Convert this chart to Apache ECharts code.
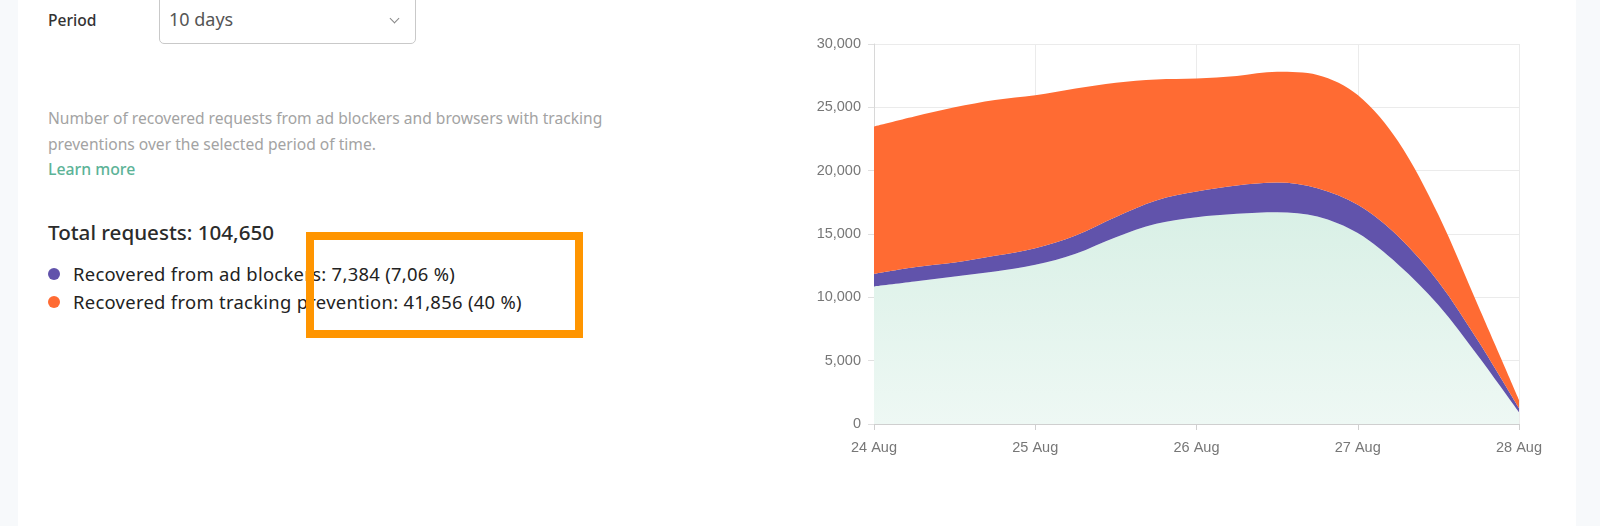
<!DOCTYPE html>
<html>
<head>
<meta charset="utf-8">
<title>Recovered requests</title>
<script src="https://cdn.jsdelivr.net/npm/echarts@6/dist/echarts.min.js"></script>
<style>
    html, body { margin: 0; padding: 0; background: #f7f9fb; }
    #page { position: relative; width: 1600px; height: 526px; overflow: hidden; font-family: "Noto Sans", sans-serif; }
    #panel { position: absolute; left: 18px; top: 0; width: 1558px; height: 526px; background: #fff; }
    #chart { position: absolute; left: 0; top: 0; width: 1600px; height: 526px; }
    .txt { position: absolute; white-space: nowrap; }
    #select { position: absolute; left: 159px; top: -10px; width: 257px; height: 54px; border: 1px solid #c9c9c9; border-radius: 5px; box-sizing: border-box; }
    #arrow { position: absolute; left: 391px; top: 15px; width: 6px; height: 6px; border-right: 1.4px solid #888; border-bottom: 1.4px solid #888; transform: rotate(45deg); }
    .dot { position: absolute; width: 12px; height: 12px; border-radius: 50%; }
    #frame { position: absolute; left: 306px; top: 232px; width: 277px; height: 106px; box-sizing: border-box; border: 8px solid #ff9500; }
</style>
</head>
<body>
<div id="page">
    <div id="panel"></div>
    <div class="txt" style="left:48px;top:9px;font-size:15.6px;color:#333;font-weight:500;">Period</div>
    <div id="select"></div>
    <div class="txt" style="left:169px;top:7px;font-size:18px;color:#555;">10 days</div>
    <div id="arrow"></div>
    <div class="txt" style="left:48px;top:107px;font-size:15.6px;color:#a3a3a3;">Number of recovered requests from ad blockers and browsers with tracking</div>
    <div class="txt" style="left:48px;top:133px;font-size:15.6px;color:#a3a3a3;">preventions over the selected period of time.</div>
    <div class="txt" style="left:48px;top:158px;font-size:15.8px;color:#5cb397;font-weight:500;">Learn more</div>
    <div class="txt" style="left:48px;top:218px;font-size:20.6px;color:#2b2b2b;font-weight:500;">Total requests: 104,650</div>
    <div class="dot" style="left:48px;top:268px;background:#6153ab;"></div>
    <div class="txt" style="left:73px;top:261px;font-size:18.4px;letter-spacing:0.3px;color:#222;">Recovered from ad blockers: 7,384 (7,06 %)</div>
    <div class="dot" style="left:48px;top:296px;background:#ff6b33;"></div>
    <div class="txt" style="left:73px;top:289px;font-size:18.4px;letter-spacing:0.3px;color:#222;">Recovered from tracking prevention: 41,856 (40 %)</div>
    <div id="frame"></div>
    <div id="chart"></div>
</div>
<script>
// quarter day steps, only the full days get a label
var dates = ['24 Aug','','','','25 Aug','','','','26 Aug','','','','27 Aug','','','','28 Aug'];

var otherRequests = [10860,11250,11650,12040,12570,13450,14750,15800,16330,16600,16720,16380,15070,12600,9400,5300,920];
var adBlockers = [1000,1130,1100,1240,1310,1440,1600,1850,2020,2230,2340,2240,2230,2230,1840,1190,340];
var trackingPrevention = [11620,11890,12250,12300,12070,11590,10600,9550,8920,8650,8740,8940,8680,7500,5280,2740,660];

var chart = echarts.init(document.getElementById('chart'));

function areaSeries(name, data, color) {
    return {
        name: name,
        type: 'line',
        stack: 'total',
        smooth: 0.33,
        symbol: 'none',
        lineStyle: { width: 0 },
        areaStyle: { color: color, opacity: 1 },
        data: data
    };
}

var option = {
    animation: false,
    backgroundColor: 'transparent',
    grid: { left: 874, right: 81, top: 44, bottom: 102 },
    xAxis: {
        type: 'category',
        boundaryGap: false,
        data: dates,
        axisLine: { lineStyle: { color: '#cfcfcf' } },
        axisTick: { interval: 3, length: 6, lineStyle: { color: '#cfcfcf' } },
        axisLabel: { interval: 3, color: '#777', fontSize: 14.5, fontFamily: 'Liberation Sans', margin: 16, showMaxLabel: true },
        splitLine: { show: true, interval: 3, lineStyle: { color: '#ebebeb' } }
    },
    yAxis: {
        type: 'value',
        min: 0,
        max: 30000,
        interval: 5000,
        axisLine: { show: true, lineStyle: { color: '#d8d8d8' } },
        axisTick: { show: true, length: 6, lineStyle: { color: '#e0e0e0' } },
        axisLabel: {
            color: '#777',
            fontSize: 14.5,
            fontFamily: 'Liberation Sans',
            margin: 13,
            formatter: function (v) { return v.toLocaleString('en-US'); }
        },
        splitLine: { lineStyle: { color: '#ebebeb' } }
    },
    series: [
        areaSeries('Other', otherRequests, new echarts.graphic.LinearGradient(0, 0, 0, 1, [
            { offset: 0, color: '#d9f0e6' },
            { offset: 1, color: '#eef8f4' }
        ])),
        areaSeries('Recovered from ad blockers', adBlockers, '#6153ab'),
        areaSeries('Recovered from tracking prevention', trackingPrevention, '#ff6b33')
    ]
};
chart.setOption(option);
</script>
</body>
</html>
